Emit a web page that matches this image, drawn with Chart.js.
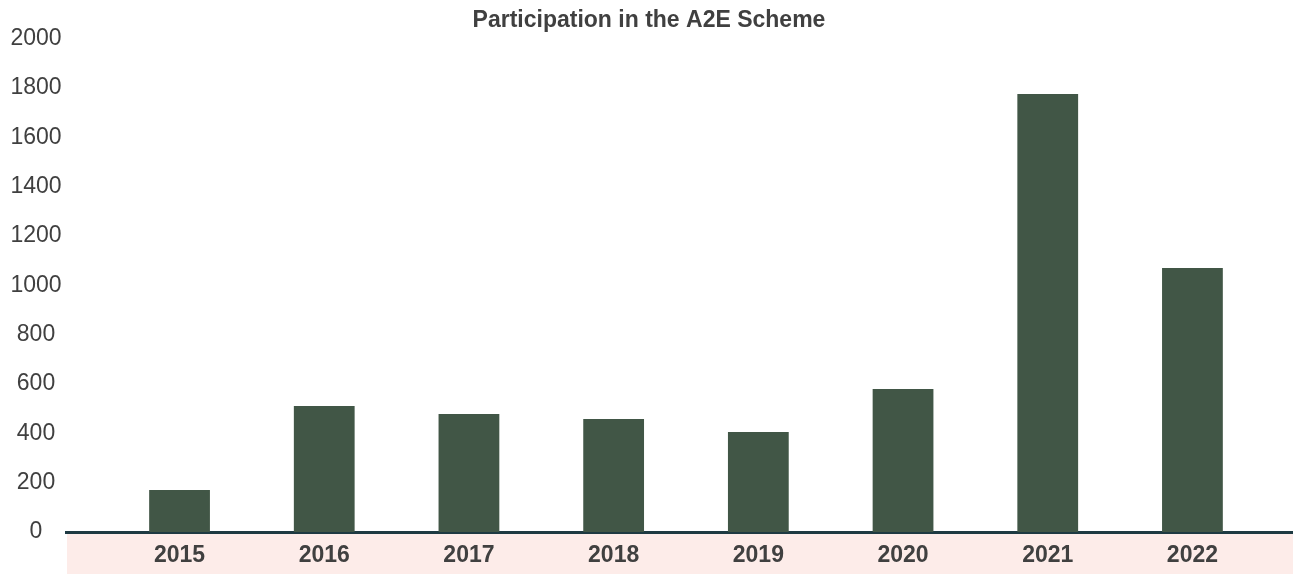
<!DOCTYPE html>
<html>
<head>
<meta charset="utf-8">
<script src="https://cdn.jsdelivr.net/npm/chart.js@4/dist/chart.umd.min.js"></script>
<style>
    html, body { margin: 0; padding: 0; background: #ffffff; }
    #wrap { position: relative; width: 1293px; height: 574px; }
</style>
</head>
<body>
<div id="wrap"><canvas id="a2eChart"></canvas></div>
<script>
// ==========================================
// DATA
// ==========================================
const YEARS = [2015, 2016, 2017, 2018, 2019, 2020, 2021, 2022];
const PARTICIPANTS = [170, 511, 478, 458, 405, 580, 1775, 1070];
const CHART_TITLE = 'Participation in the A2E Scheme';

const Y_MIN = 0;
const Y_MAX = 2000;
const Y_STEP = 200;

// x range runs a bit past the first/last year so the axis band reaches the edges
const X_MIN = 2014.222;
const X_MAX = 2022.695;

const BAR_COLOR = '#415646';
const TEXT_COLOR = '#404040';
const AXIS_COLOR = '#1e3a42';
const BAND_COLOR = '#fdece9';
const FONT_FAMILY = '"Liberation Sans", Arial, Helvetica, sans-serif';

// pale band behind the year labels
const axisBand = {
    id: 'axisBand',
    beforeDraw(chart) {
        const s = chart.scales.x;
        const ctx = chart.ctx;
        ctx.save();
        ctx.fillStyle = BAND_COLOR;
        ctx.fillRect(s.left, s.top, s.right - s.left, s.bottom - s.top);
        ctx.restore();
    }
};

const ctx = document.getElementById('a2eChart').getContext('2d');
new Chart(ctx, {
    type: 'bar',
    data: {
        labels: YEARS,
        datasets: [{
            label: 'Participants',
            data: PARTICIPANTS,
            backgroundColor: BAR_COLOR,
            borderWidth: 0,
            categoryPercentage: 1.0,
            barPercentage: 0.42
        }]
    },
    options: {
        responsive: true,
        maintainAspectRatio: false,
        animation: false,
        layout: { padding: { left: 5, right: 0, top: 0, bottom: -5.6 } },
        scales: {
            x: {
                type: 'linear',
                min: X_MIN,
                max: X_MAX,
                offset: false,
                grid: { display: false, drawTicks: false },
                border: { display: true, color: AXIS_COLOR, width: 3 },
                ticks: {
                    stepSize: 1,
                    includeBounds: false,
                    padding: 10,
                    color: TEXT_COLOR,
                    font: { family: FONT_FAMILY, size: 23, weight: 'bold', lineHeight: 1.2 },
                    callback: v => Number.isInteger(v) ? String(v) : ''
                }
            },
            y: {
                min: Y_MIN,
                max: Y_MAX,
                grid: { display: false, drawTicks: false },
                border: { display: false },
                ticks: {
                    stepSize: Y_STEP,
                    crossAlign: 'center',
                    padding: 5.4,
                    color: TEXT_COLOR,
                    font: { family: FONT_FAMILY, size: 23 },
                    callback: v => String(v)
                }
            }
        },
        plugins: {
            legend: { display: false },
            tooltip: { enabled: false },
            title: {
                display: true,
                text: CHART_TITLE,
                color: TEXT_COLOR,
                padding: { top: 7, bottom: 4 },
                font: { family: FONT_FAMILY, size: 23, weight: 'bold' }
            }
        }
    },
    plugins: [axisBand]
});
</script>
</body>
</html>
